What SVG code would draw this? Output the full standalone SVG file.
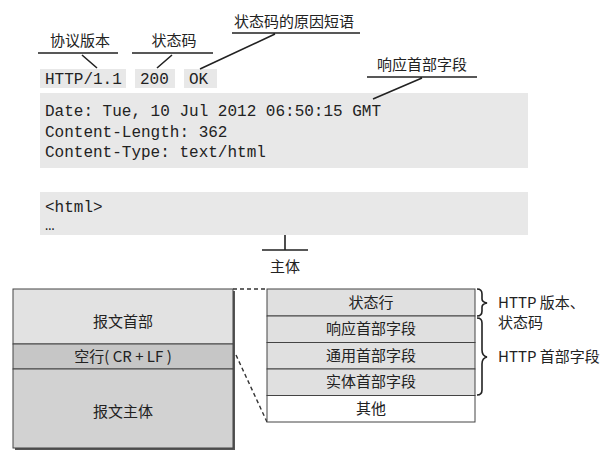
<svg xmlns="http://www.w3.org/2000/svg" width="610" height="470" viewBox="0 0 610 470">
<style>
.cn{font-family:"Noto Sans CJK SC","Liberation Sans",sans-serif;font-size:15px;fill:#222}
.mono{font-family:"Liberation Mono",monospace;font-size:16px;fill:#222}
.code{fill:#e8e8e8}
.ln{stroke:#222;stroke-width:1.6;fill:none}
.box{stroke:#444;stroke-width:1}
.dash{stroke:#333;stroke-width:1.4;stroke-dasharray:4 3;fill:none}
</style>
<rect width="610" height="470" fill="#fff"/>
<g id="message">
<rect class="code" x="40" y="69" width="86" height="19"/>
<rect class="code" x="135" y="69" width="40" height="19"/>
<rect class="code" x="184" y="69" width="33" height="19"/>
<text class="mono" x="45" y="84">HTTP/1.1</text>
<text class="mono" x="140" y="84">200</text>
<text class="mono" x="189" y="84">OK</text>
<rect class="code" x="40" y="93" width="488" height="75"/>
<text class="mono" x="45" y="116">Date: Tue, 10 Jul 2012 06:50:15 GMT</text>
<text class="mono" x="45" y="137">Content-Length: 362</text>
<text class="mono" x="45" y="157">Content-Type: text/html</text>
<rect class="code" x="40" y="192" width="488" height="43"/>
<text class="mono" x="45" y="212">&lt;html&gt;</text>
<text class="mono" x="45" y="230" font-size="10">…</text>
</g>
<g id="labels">
<text class="cn" x="80" y="46" text-anchor="middle">协议版本</text>
<text class="cn" x="174" y="46" text-anchor="middle">状态码</text>
<text class="cn" x="294" y="27" text-anchor="middle">状态码的原因短语</text>
<text class="cn" x="422" y="70" text-anchor="middle">响应首部字段</text>
<text class="cn" x="285" y="272" text-anchor="middle">主体</text>
</g>
<g id="connectors">
<path class="ln" d="M38,53H118M82,55L97,68"/>
<path class="ln" d="M132,53H213M172,55L157,68"/>
<path class="ln" d="M232,33H360M275,34L200,69"/>
<path class="ln" d="M367,77H477M422,78L373,99"/>
<path class="ln" d="M285,235V250M262,250H308"/>
<path class="dash" d="M233,289H267"/>
<path class="dash" d="M236,355L267,422"/>
</g>
<g id="left-box">
<rect x="15" y="291" width="220" height="159" fill="#555"/>
<rect class="box" x="13" y="289" width="220" height="55" fill="#e2e2e2"/>
<rect class="box" x="13" y="344" width="220" height="25" fill="#c6c6c6"/>
<rect class="box" x="13" y="369" width="220" height="79" fill="#d2d2d2"/>
<text class="cn" x="123" y="327" text-anchor="middle">报文首部</text>
<text class="cn" x="123" y="362" text-anchor="middle">空行( CR + LF )</text>
<text class="cn" x="123" y="417" text-anchor="middle">报文主体</text>
</g>
<g id="right-box">
<rect class="box" x="267" y="289" width="208" height="27" fill="#e0e0e0"/>
<rect class="box" x="267" y="316" width="208" height="26.5" fill="#e0e0e0"/>
<rect class="box" x="267" y="342.5" width="208" height="26.5" fill="#e0e0e0"/>
<rect class="box" x="267" y="369" width="208" height="26.5" fill="#e0e0e0"/>
<rect class="box" x="267" y="395.5" width="208" height="26.5" fill="#fff"/>
<text class="cn" x="371" y="308" text-anchor="middle">状态行</text>
<text class="cn" x="371" y="334" text-anchor="middle">响应首部字段</text>
<text class="cn" x="371" y="361" text-anchor="middle">通用首部字段</text>
<text class="cn" x="371" y="387" text-anchor="middle">实体首部字段</text>
<text class="cn" x="371" y="414" text-anchor="middle">其他</text>
</g>
<g id="braces">
<path class="ln" stroke-width="1.2" d="M477,289Q482,289 482,294V299Q482,302 487,303Q482,304 482,307V311Q482,316 477,316"/>
<path class="ln" stroke-width="1.2" d="M477,318Q482,318 482,323V350Q482,356 487,357Q482,358 482,364V390Q482,395 477,395"/>
<text class="cn" x="498" y="308">HTTP 版本、</text>
<text class="cn" x="498" y="328">状态码</text>
<text class="cn" x="498" y="362">HTTP 首部字段</text>
</g>
</svg>
